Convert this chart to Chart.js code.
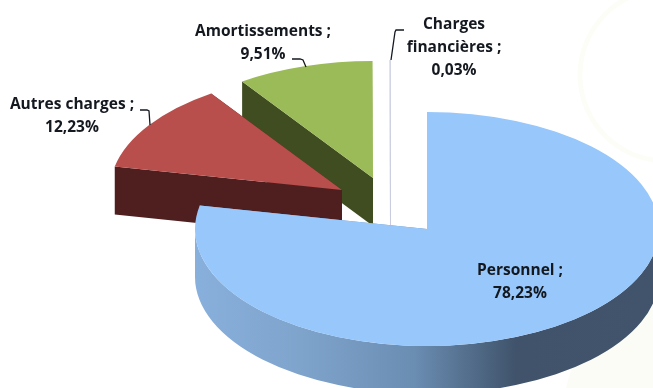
<!DOCTYPE html>
<html>
<head>
<meta charset="utf-8">
<style>
html, body { margin: 0; padding: 0; background: #fff; overflow: hidden; }
canvas { display: block; }
</style>
<script src="https://cdn.jsdelivr.net/npm/chart.js@4"></script>
</head>
<body>
<canvas id="pie" width="653" height="388"></canvas>
<script>
const categories = ['Personnel', 'Autres charges', 'Amortissements', 'Charges financières'];
const shares = [78.23, 12.23, 9.51, 0.03];

const topColors = ['#97c7fb', '#b94f4c', '#9bbb59', '#c9cce0'];
const sideColors = ['#40536b', '#4f1f1f', '#3f4d20', '#c9cce0'];

// screen geometry of the tilted pie
const centerX = 427, centerY = 229, radiusX = 232, radiusY = 117, depth = 48;
// how far each slice is pulled out of the pie
const shifts = [[0, 0], [-85, -39], [-54, -51], [-37, -52]];
// slices are painted back to front
const paintOrder = [3, 2, 1, 0];

// one entry per slice: text centre, first line y, wrap, leader polyline
const labelSpots = [
    { x: 520, y: 271, wrap: false, leader: null },
    { x: 72, y: 105, wrap: false, leader: [[140, 110], [147, 110], [149, 111], [150, 125]] },
    { x: 263, y: 32, wrap: false, leader: [[292, 59], [300, 59], [303, 60], [306, 67]] },
    { x: 454, y: 25, wrap: true, leader: [[404, 30], [396, 30], [395, 32], [391, 60]] }
];

function sideFill(ctx, i) {
    if (i !== 0) return sideColors[i];
    const g = ctx.createLinearGradient(195, 0, 653, 0);
    g.addColorStop(0, '#88b0dc');
    g.addColorStop(0.23, '#7fa4cc');
    g.addColorStop(0.48, '#6a8db2');
    g.addColorStop(0.7, '#40536b');
    g.addColorStop(1, '#41546b');
    return g;
}

function drawWalls(ctx, arc, i) {
    const cx = centerX + shifts[i][0], cy = centerY + shifts[i][1];
    ctx.fillStyle = sideFill(ctx, i);

    // the two cut faces
    [arc.startAngle, arc.endAngle].forEach(a => {
        const ex = cx + radiusX * Math.cos(a), ey = cy + radiusY * Math.sin(a);
        ctx.beginPath();
        ctx.moveTo(cx, cy);
        ctx.lineTo(ex, ey);
        ctx.lineTo(ex, ey + depth);
        ctx.lineTo(cx, cy + depth);
        ctx.closePath();
        ctx.fill();
    });

    // outer rim, only the part turned towards the viewer
    const from = Math.max(arc.startAngle, 0), to = Math.min(arc.endAngle, Math.PI);
    if (to > from) {
        ctx.beginPath();
        ctx.ellipse(cx, cy, radiusX, radiusY, 0, from, to);
        ctx.ellipse(cx, cy + depth, radiusX, radiusY, 0, to, from, true);
        ctx.closePath();
        ctx.fill();
    }
}

function drawTop(ctx, arc, i) {
    ctx.save();
    ctx.translate(centerX + shifts[i][0], centerY + shifts[i][1]);
    ctx.scale(radiusX / arc.outerRadius, radiusY / arc.outerRadius);
    ctx.translate(-arc.x, -arc.y);
    arc.draw(ctx);
    ctx.restore();

    // very thin slices would vanish, so trace them with a hairline
    if (arc.endAngle - arc.startAngle < 0.01) {
        const cx = centerX + shifts[i][0], cy = centerY + shifts[i][1];
        const a = (arc.startAngle + arc.endAngle) / 2;
        ctx.strokeStyle = topColors[i];
        ctx.lineWidth = 1;
        ctx.beginPath();
        ctx.moveTo(cx + radiusX * Math.cos(a) + 0.5, cy + radiusY * Math.sin(a));
        ctx.lineTo(cx + 0.5, cy + depth);
        ctx.stroke();
    }
}

const tiltedPie = {
    id: 'tiltedPie',
    beforeDraw(chart) {
        const ctx = chart.ctx;
        ctx.save();
        ctx.fillStyle = '#fff';
        ctx.fillRect(0, 0, chart.width, chart.height);
        // pale ornaments in the page background
        ctx.strokeStyle = '#fdfdf7';
        ctx.lineWidth = 5;
        ctx.beginPath();
        ctx.arc(666, 75, 86, 0, Math.PI * 2);
        ctx.stroke();
        ctx.fillStyle = '#fcfcf6';
        ctx.beginPath();
        ctx.arc(668, 408, 104, 0, Math.PI * 2);
        ctx.fill();
        ctx.restore();
    },
    beforeDatasetDraw(chart) {
        const ctx = chart.ctx;
        const arcs = chart.getDatasetMeta(0).data;
        paintOrder.forEach(i => {
            drawWalls(ctx, arcs[i], i);
            drawTop(ctx, arcs[i], i);
        });
        return false;
    },
    afterDatasetsDraw(chart) {
        const ctx = chart.ctx;
        ctx.save();
        ctx.fillStyle = '#14181f';
        ctx.strokeStyle = '#14181f';
        ctx.font = '700 15.5px "Open Sans"';
        ctx.textAlign = 'center';
        ctx.textBaseline = 'middle';
        categories.forEach((name, i) => {
            const spot = labelSpots[i];
            const value = shares[i].toFixed(2).replace('.', ',') + '%';
            const lines = (spot.wrap ? name.split(' ') : [name]);
            lines[lines.length - 1] += ' ;';
            lines.push(value);
            lines.forEach((line, n) => ctx.fillText(line, spot.x, spot.y + n * 23));
            if (spot.leader) {
                ctx.lineWidth = 1.3;
                ctx.beginPath();
                spot.leader.forEach((p, k) => k ? ctx.lineTo(p[0], p[1]) : ctx.moveTo(p[0], p[1]));
                ctx.stroke();
            }
        });
        ctx.restore();
    }
};

new Chart(document.getElementById('pie'), {
    type: 'pie',
    data: {
        labels: categories,
        datasets: [{
            data: shares,
            backgroundColor: topColors,
            borderWidth: 0
        }]
    },
    options: {
        responsive: false,
        animation: false,
        devicePixelRatio: 1,
        plugins: {
            legend: { display: false },
            tooltip: { enabled: false }
        }
    },
    plugins: [tiltedPie]
});
</script>
</body>
</html>
